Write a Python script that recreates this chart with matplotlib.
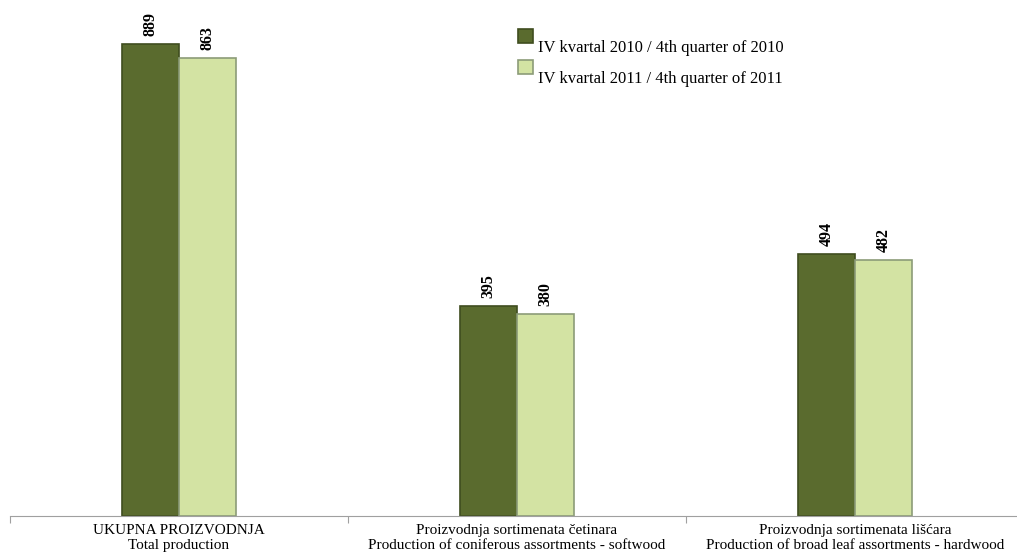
import numpy as np
import matplotlib.pyplot as plt
from matplotlib.patches import Rectangle
from matplotlib.container import BarContainer
from matplotlib.legend_handler import HandlerPatch, update_from_first_child

categories = ["UKUPNA PROIZVODNJA\nTotal production",
              "Proizvodnja sortimenata četinara\nProduction of coniferous assortments - softwood",
              "Proizvodnja sortimenata lišćara\nProduction of broad leaf assortments - hardwood"]
q4_2010 = [889, 395, 494]
q4_2011 = [863, 380, 482]
series_names = ["IV kvartal 2010 / 4th quarter of 2010",
                "IV kvartal 2011 / 4th quarter of 2011"]

plt.rcParams['font.family'] = ['Liberation Serif', 'DejaVu Serif']


def raised_square(legend, orig_handle, xdescent, ydescent, width, height, fontsize):
    # square sits above the text, like the original legend
    return Rectangle((-xdescent, -ydescent + 0.7 * height), width, height)


fig = plt.figure(figsize=(10.17, 5.58), dpi=100)
ax = fig.add_axes([10 / 1017, 42 / 558, 1014 / 1017, 516 / 558])

x = np.arange(len(categories))
w = 0.17
b1 = ax.bar(x - w / 2, q4_2010, w, color='#5a6b2e', edgecolor='#3f4d1f', linewidth=1.2,
            label=series_names[0])
b2 = ax.bar(x + w / 2, q4_2011, w, color='#d3e3a3', edgecolor='#8c9c78', linewidth=1.2,
            label=series_names[1])

for bars, vals in ((b1, q4_2010), (b2, q4_2011)):
    for r, v in zip(bars, vals):
        ax.text(r.get_x() + r.get_width() / 2, v + 15, str(v), rotation=90,
                ha='center', va='bottom', fontsize=11.5, fontweight='bold')

ax.set_xlim(-0.5, 2.5)
ax.set_ylim(0, 972)
for s in ('top', 'right', 'left'):
    ax.spines[s].set_visible(False)
ax.spines['bottom'].set_color('#a0a0a0')
ax.set_yticks([])
ax.set_xticks(np.arange(-0.5, 2.6, 1.0))
ax.set_xticklabels([])
ax.tick_params(axis='x', length=5, color='#a0a0a0', direction='out')
for i, c in enumerate(categories):
    ax.annotate(c, xy=(i, 0), xycoords='data', xytext=(0, -6), textcoords='offset points',
                ha='center', va='top', fontsize=11, linespacing=1.2)

ax.legend(handles=[b1, b2], loc='upper left', bbox_to_anchor=(0.494, 0.937), frameon=False,
          fontsize=12, handlelength=0.9, handleheight=0.9, handletextpad=0.3,
          labelspacing=0.85, borderaxespad=0,
          handler_map={BarContainer: HandlerPatch(patch_func=raised_square,
                                                  update_func=update_from_first_child)})

plt.savefig('out.png', dpi=100)
